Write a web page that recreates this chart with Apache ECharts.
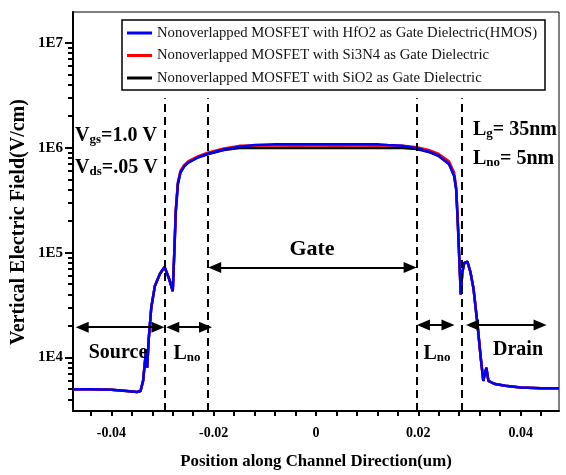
<!DOCTYPE html>
<html>
<head>
<meta charset="utf-8">
<script src="https://cdn.jsdelivr.net/npm/echarts@6/dist/echarts.min.js"></script>
<style>
html,body{margin:0;padding:0;background:#fff;}
#c{width:566px;height:475px;}
</style>
</head>
<body>
<div id="c"></div>
<script>
// ---- data ----
const seriesNames = [
  'Nonoverlapped MOSFET with HfO2 as Gate Dielectric(HMOS)',
  'Nonoverlapped MOSFET with Si3N4 as Gate Dielectric',
  'Nonoverlapped MOSFET with SiO2 as Gate Dielectric'
];
const xPos = [-0.0475,-0.044,-0.040,-0.037,-0.035,-0.0343,-0.0338,-0.0335,-0.0332,-0.0330,-0.0327,-0.0322,-0.0315,-0.0305,-0.0296,-0.0287,-0.0280,-0.0277,-0.0274,-0.0270,-0.0265,-0.0258,-0.025,-0.023,-0.021,-0.018,-0.015,-0.012,-0.008,-0.004,0,0.004,0.008,0.012,0.014,0.017,0.0197,0.022,0.024,0.026,0.027,0.0274,0.0277,0.028,0.0283,0.0286,0.029,0.0296,0.0302,0.0308,0.0316,0.0322,0.0327,0.0330,0.0333,0.0337,0.035,0.037,0.040,0.044,0.0475];
const hfo2  = [5000,5000,4950,4800,4700,4800,6000,8500,12000,8000,15000,30000,48000,63000,73000,56000,43000,100000,250000,450000,580000,660000,720000,810000,880000,960000,1020000,1060000,1080000,1080000,1080000,1080000,1080000,1080000,1060000,1040000,990000,920000,840000,700000,540000,400000,200000,90000,40000,65000,80000,82000,65000,45000,20000,10000,6000,7000,8000,6000,5600,5400,5200,5100,5100];
const si3n4 = [5000,5000,4950,4800,4700,4800,6000,8500,12000,8000,15000,30000,48000,63000,73000,56000,43000,100000,260000,470000,600000,680000,740000,830000,900000,980000,1040000,1050000,1050000,1050000,1050000,1050000,1050000,1050000,1050000,1045000,1010000,950000,870000,740000,580000,420000,210000,90000,40000,65000,80000,82000,65000,45000,20000,10000,6000,7000,8000,6000,5600,5400,5200,5100,5100];
const sio2  = [5000,5000,4950,4800,4700,4800,6000,8500,12000,8000,15000,30000,48000,63000,73000,56000,43000,100000,250000,450000,580000,660000,720000,810000,870000,950000,990000,1000000,990000,1000000,995000,1000000,990000,1000000,995000,990000,970000,910000,830000,700000,540000,400000,200000,90000,40000,65000,80000,82000,65000,45000,20000,10000,6000,7000,8000,6000,5600,5400,5200,5100,5100];

const xTickValues  = [-0.044,-0.040,-0.036,-0.032,-0.028,-0.024,-0.020,-0.016,-0.012,-0.008,-0.004,0,0.004,0.008,0.012,0.016,0.020,0.024,0.028,0.032,0.036,0.040,0.044];
const xLabelValues = [-0.04,-0.02,0,0.02,0.04];
const yLabelValues = [1e4,1e5,1e6,1e7];
const yMinorTicks  = [4000,5000,6000,7000,8000,9000,20000,30000,40000,50000,60000,70000,80000,90000,200000,300000,400000,500000,600000,700000,800000,900000,2e6,3e6,4e6,5e6,6e6,7e6,8e6,9e6];

// annotation geometry in data units (arrow endpoints are arrowhead centres)
const dividerX    = [-0.0296,-0.0211,0.0197,0.0284];
const dividerSpan = [3100, 2.95e6];
const arrowStart  = [-0.0457,-0.0280,-0.0198,0.0210,0.0306];
const arrowEnd    = [-0.0309,-0.0216,0.0184,0.0258,0.0438];
const arrowLevel  = [19500,19500,72000,20500,20500];

const SERIF = '"Liberation Serif","Times New Roman",serif';
const colors = ['#0000ff','#ff0000','#000000'];

const chart = echarts.init(document.getElementById('c'), null, {renderer:'canvas'});

function lineData(vals){ return xPos.map((x,i)=>[x, vals[i]]); }

const subRich = {
  b:{fontFamily:SERIF,fontSize:20,fontWeight:'bold',color:'#000',lineHeight:24,verticalAlign:'bottom'},
  s:{fontFamily:SERIF,fontSize:13,fontWeight:'bold',color:'#000',lineHeight:13,verticalAlign:'bottom'},
  g:{fontFamily:SERIF,fontSize:22,fontWeight:'bold',color:'#000',lineHeight:24}
};
function txt(x,y,text,align){
  return {type:'text', x:x, y:y, z:10, style:{text:text, rich:subRich, align:align||'left', verticalAlign:'middle', fontFamily:SERIF, fontSize:20, fontWeight:'bold', fill:'#000'}};
}

const option = {
  backgroundColor:'#fff',
  animation:false,
  grid:{left:73,right:7,top:12,bottom:59,show:true,borderColor:'#000',borderWidth:1,containLabel:false},
  legend:{
    data:seriesNames, orient:'vertical', left:127, top:25, padding:0, itemGap:6.5,
    icon:'rect', itemWidth:25, itemHeight:3,
    textStyle:{fontFamily:SERIF,fontSize:14.7,color:'#111',lineHeight:16}
  },
  xAxis:{
    type:'value', min:-0.0475, max:0.0475,
    name:'Position along Channel Direction(um)', nameLocation:'middle', nameGap:42,
    nameTextStyle:{fontFamily:SERIF,fontSize:16.8,fontWeight:'bold',color:'#000'},
    axisLine:{show:true,onZero:false,lineStyle:{color:'#000',width:2}},
    axisTick:{show:true,length:5,customValues:xTickValues,lineStyle:{color:'#000',width:2}},
    axisLabel:{customValues:xLabelValues,margin:15,fontFamily:SERIF,fontSize:14,fontWeight:'bold',color:'#000',
      formatter:v=> (Math.abs(v)<1e-9 ? '0' : v.toFixed(2))},
    splitLine:{show:false}
  },
  yAxis:[{
    type:'log', logBase:10, min:3100, max:1.96e7,
    axisLine:{show:true,onZero:false,lineStyle:{color:'#000',width:2}},
    axisTick:{show:true,length:8,customValues:yLabelValues,lineStyle:{color:'#000',width:2}},
    axisLabel:{customValues:yLabelValues,margin:10,fontFamily:SERIF,fontSize:15,fontWeight:'bold',color:'#000',
      formatter:v=>'1E'+Math.round(Math.log10(v))},
    splitLine:{show:false}
  },{
    type:'log', logBase:10, min:3100, max:1.96e7, position:'left',
    axisLine:{show:false,onZero:false},
    axisTick:{show:true,length:5,customValues:yMinorTicks,lineStyle:{color:'#000',width:2}},
    axisLabel:{show:false}, splitLine:{show:false}
  }],
  graphic:[
    {type:'rect', shape:{x:122,y:20,width:423,height:70}, style:{fill:'#fff',stroke:'#000',lineWidth:1.5}, z:0},
    {type:'text', x:19, y:222, rotation:Math.PI/2, z:10,
     style:{text:'Vertical Electric Field(V/cm)', align:'center', verticalAlign:'middle', fontFamily:SERIF, fontSize:20, fontWeight:'bold', fill:'#000'}},
    txt(75,134,'{b|V}{s|gs}{b|=1.0 V}'),
    txt(75,166,'{b|V}{s|ds}{b|=.05 V}'),
    txt(473,128,'{b|L}{s|g}{b|= 35nm}'),
    txt(473,157,'{b|L}{s|no}{b|= 5nm}'),
    txt(312,249,'{g|Gate}','center'),
    txt(118,351,'{b|Source}','center'),
    txt(187,352,'{b|L}{s|no}','center'),
    txt(437,352,'{b|L}{s|no}','center'),
    txt(518,348,'{b|Drain}','center')
  ],
  series:[
    {name:seriesNames[2], type:'line', data:lineData(sio2), showSymbol:false, z:2,
     lineStyle:{color:colors[2],width:2.5}, itemStyle:{color:colors[2]}},
    {name:seriesNames[1], type:'line', data:lineData(si3n4), showSymbol:false, z:3,
     lineStyle:{color:colors[1],width:2.5}, itemStyle:{color:colors[1]}},
    {name:seriesNames[0], type:'line', data:lineData(hfo2), showSymbol:false, z:4,
     lineStyle:{color:colors[0],width:2.5}, itemStyle:{color:colors[0]}},
    {name:'dividers', type:'line', data:[], silent:true, z:1,
     markLine:{silent:true, symbol:['none','none'], label:{show:false},
       lineStyle:{color:'#000',width:2,type:[8,5]},
       data: dividerX.map(x=>[{coord:[x,dividerSpan[0]]},{coord:[x,dividerSpan[1]]}])}},
    {name:'arrows', type:'line', data:[], silent:true, z:5,
     markLine:{silent:true, symbol:['triangle','triangle'], symbolSize:[11,13], label:{show:false},
       lineStyle:{color:'#000',width:2,type:'solid'},
       data: arrowStart.map((x,i)=>[{coord:[x,arrowLevel[i]]},{coord:[arrowEnd[i],arrowLevel[i]]}])}}
  ]
};
chart.setOption(option);
</script>
</body>
</html>
